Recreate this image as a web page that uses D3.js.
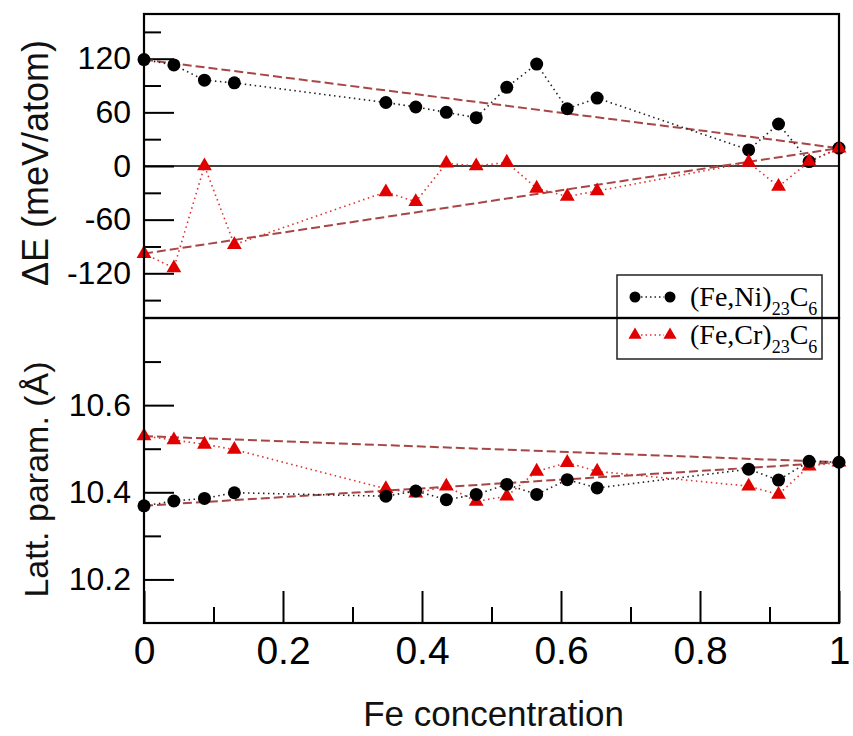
<!DOCTYPE html>
<html>
<head>
<meta charset="utf-8">
<script src="https://cdn.jsdelivr.net/npm/d3@7"></script>
<style>
  html, body { margin: 0; padding: 0; background: #fff; }
  svg { display: block; }
</style>
</head>
<body>
<svg id="chart" width="853" height="736"></svg>
<script>
// ---- data ----
const feConc = [0, 0.043, 0.087, 0.13, 0.348, 0.391, 0.435, 0.478, 0.522, 0.565, 0.609, 0.652, 0.87, 0.913, 0.957, 1];
const dE_FeNi = [119, 113, 96, 93, 71, 66, 60, 54, 88, 114, 64, 76, 18, 47, 5, 20];
const dE_FeCr = [-98, -114, 0, -88, -29, -40, 3, 0, 4, -25, -34, -28, 4, -23, 5, 20];
const latt_FeNi = [10.369, 10.38, 10.386, 10.399, 10.391, 10.403, 10.383, 10.395, 10.418, 10.395, 10.429, 10.41, 10.453, 10.428, 10.471, 10.469];
const latt_FeCr = [10.529, 10.52, 10.51, 10.498, 10.408, 10.398, 10.414, 10.379, 10.391, 10.448, 10.468, 10.448, 10.414, 10.395, 10.46, 10.469];

const xTicksMajor = [0, 0.2, 0.4, 0.6, 0.8, 1];
const xTicksMinor = [0.1, 0.3, 0.5, 0.7, 0.9];
const yTopMajor = [-120, -60, 0, 60, 120];
const yTopMinor = [-150, -90, -30, 30, 90, 150];
const yBotMajor = [10.2, 10.4, 10.6];
const yBotMinor = [10.3, 10.5, 10.7];
const legendLabels = [["(Fe,Ni)", "23", "C", "6"], ["(Fe,Cr)", "23", "C", "6"]];

// ---- layout ----
const svg = d3.select("#chart");
const L = 144, R = 839, T = 14, MID = 318, B = 623;
const x = d3.scaleLinear().domain([0, 1]).range([L, R]);
const yTop = d3.scaleLinear().domain([-170, 170]).range([MID, T]);
const yBot = d3.scaleLinear().domain([10.1, 10.8]).range([B, MID]);

const RED = "#e00000";
const DASH = "#a84646";
const sans = "'Liberation Sans', Arial, Helvetica, sans-serif";
const serif = "'Liberation Serif', 'Times New Roman', serif";

function fmt(d) { return String(d); }

// zero line in top panel
svg.append("line")
  .attr("x1", L).attr("x2", R)
  .attr("y1", yTop(0)).attr("y2", yTop(0))
  .attr("stroke", "#000").attr("stroke-width", 1.6);

function styleAxis(g, fs) {
  g.select(".domain").remove();
  g.selectAll(".tick line").attr("stroke", "#000").attr("stroke-width", 2);
  g.selectAll(".tick text").attr("fill", "#000").style("font-family", sans).style("font-size", fs + "px");
}

// y axes
[[yTop, yTopMajor, yTopMinor], [yBot, yBotMajor, yBotMinor]].forEach(([sc, maj, mino]) => {
  const gM = svg.append("g").attr("transform", `translate(${L},0)`)
    .call(d3.axisLeft(sc).tickValues(maj).tickSize(-30).tickPadding(13).tickFormat(fmt));
  styleAxis(gM, 32);
  const gm = svg.append("g").attr("transform", `translate(${L},0)`)
    .call(d3.axisLeft(sc).tickValues(mino).tickSize(-17).tickFormat(""));
  styleAxis(gm, 32);
});

// x axis
const gxM = svg.append("g").attr("transform", `translate(0,${B})`)
  .call(d3.axisBottom(x).tickValues(xTicksMajor).tickSize(-32).tickPadding(13).tickFormat(fmt));
styleAxis(gxM, 39);
const gxm = svg.append("g").attr("transform", `translate(0,${B})`)
  .call(d3.axisBottom(x).tickValues(xTicksMinor).tickSize(-16).tickFormat(""));
styleAxis(gxm, 39);

// series drawing
function drawSeries(ys, vals, kind) {
  const pts = feConc.map((c, i) => [c, vals[i]]);
  // dashed linear reference between end members
  const ends = [pts[0], pts[pts.length - 1]];
  svg.append("path")
    .attr("d", d3.line().x(d => x(d[0])).y(d => ys(d[1]))(ends))
    .attr("fill", "none").attr("stroke", DASH).attr("stroke-width", 2)
    .attr("stroke-dasharray", "9,4");
  // dotted connector
  svg.append("path")
    .attr("d", d3.line().x(d => x(d[0])).y(d => ys(d[1]))(pts))
    .attr("fill", "none").attr("stroke", kind === "circle" ? "#222" : "#e03030")
    .attr("stroke-width", 1.6).attr("stroke-dasharray", "1.5,3.5");
  return pts;
}
function drawMarkers(ys, pts, kind) {
  if (kind === "circle") {
    svg.append("g").selectAll("circle").data(pts).join("circle")
      .attr("cx", d => x(d[0])).attr("cy", d => ys(d[1])).attr("r", 6.5).attr("fill", "#000");
  } else {
    svg.append("g").selectAll("path").data(pts).join("path")
      .attr("transform", d => `translate(${x(d[0])},${ys(d[1])})`)
      .attr("d", d3.symbol(d3.symbolTriangle, 95)).attr("fill", RED);
  }
}

// top panel: black first, red on top
const pTopNi = drawSeries(yTop, dE_FeNi, "circle");
const pTopCr = drawSeries(yTop, dE_FeCr, "tri");
drawMarkers(yTop, pTopNi, "circle");
drawMarkers(yTop, pTopCr, "tri");

// bottom panel: red first, black on top
const pBotCr = drawSeries(yBot, latt_FeCr, "tri");
const pBotNi = drawSeries(yBot, latt_FeNi, "circle");
drawMarkers(yBot, pBotCr, "tri");
drawMarkers(yBot, pBotNi, "circle");

// legend
const lg = svg.append("g");
lg.append("rect").attr("x", 617).attr("y", 275).attr("width", 205).attr("height", 84)
  .attr("fill", "#fff").attr("stroke", "#222").attr("stroke-width", 1.5);
legendLabels.forEach((lab, i) => {
  const cy = 297 + i * 38;
  const kind = i === 0 ? "circle" : "tri";
  lg.append("line").attr("x1", 641).attr("x2", 664).attr("y1", cy).attr("y2", cy)
    .attr("stroke", kind === "circle" ? "#222" : "#e03030").attr("stroke-width", 1.5)
    .attr("stroke-dasharray", "1.5,3");
  [635, 670].forEach(sx => {
    if (kind === "circle") lg.append("circle").attr("cx", sx).attr("cy", cy).attr("r", 5.5).attr("fill", "#000");
    else lg.append("path").attr("transform", `translate(${sx},${cy})`).attr("d", d3.symbol(d3.symbolTriangle, 75)).attr("fill", RED);
  });
  const t = lg.append("text").attr("x", 690).attr("y", cy + 9)
    .style("font-family", serif).style("font-size", "28px").attr("fill", "#000");
  t.append("tspan").text(lab[0]);
  t.append("tspan").attr("dy", 9).style("font-size", "18px").text(lab[1]);
  t.append("tspan").attr("dy", -9).text(lab[2]);
  t.append("tspan").attr("dy", 9).style("font-size", "18px").text(lab[3]);
});

// frames
svg.append("rect").attr("x", L).attr("y", T).attr("width", R - L).attr("height", MID - T)
  .attr("fill", "none").attr("stroke", "#000").attr("stroke-width", 2.2);
svg.append("rect").attr("x", L).attr("y", MID).attr("width", R - L).attr("height", B - MID)
  .attr("fill", "none").attr("stroke", "#000").attr("stroke-width", 2.2);

// axis labels
svg.append("text").attr("transform", `translate(48,${(T + MID) / 2 - 3}) rotate(-90)`)
  .attr("text-anchor", "middle").style("font-family", sans).style("font-size", "36px").attr("fill", "#111")
  .text("ΔE (meV/atom)");
svg.append("text").attr("transform", `translate(48,${(MID + B) / 2 + 9}) rotate(-90)`)
  .attr("text-anchor", "middle").style("font-family", sans).style("font-size", "34px").attr("fill", "#111")
  .text("Latt. param. (Å)");
svg.append("text").attr("x", (L + R) / 2 + 2).attr("y", 726)
  .attr("text-anchor", "middle").style("font-family", sans).style("font-size", "35px").attr("fill", "#111")
  .text("Fe concentration");
</script>
</body>
</html>
